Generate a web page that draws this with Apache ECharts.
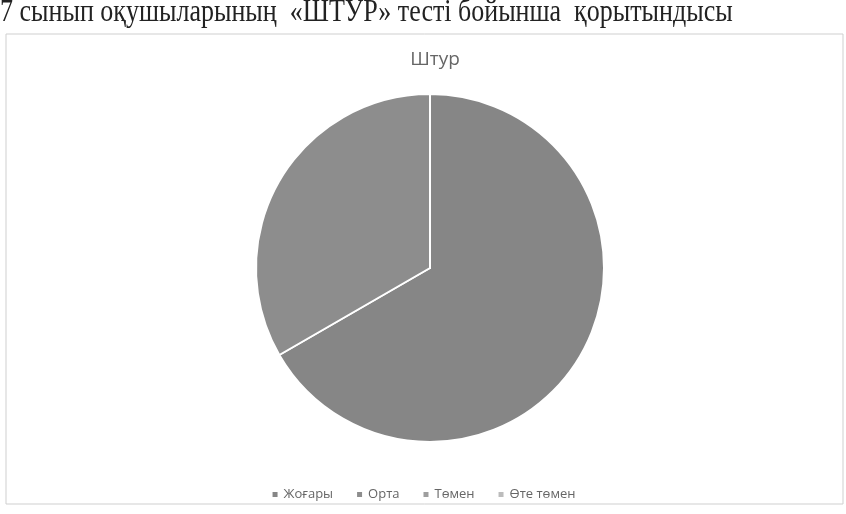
<!DOCTYPE html>
<html>
<head>
<meta charset="utf-8">
<script src="https://cdn.jsdelivr.net/npm/echarts@6/dist/echarts.min.js"></script>
<style>
  html, body { margin: 0; padding: 0; background: #fff; }
  #main { width: 846px; height: 514px; }
</style>
</head>
<body>
<div id="main"></div>
<script>
// деңгейлер мен нәтижелер
var categories = ["Жоғары", "Орта", "Төмен", "Өте төмен"];
var values = [20, 10, 0, 0];
var colors = ["#868686", "#8d8d8d", "#9e9e9e", "#bcbcbc"];

var pieData = [];
for (var i = 0; i < categories.length; i++) {
    pieData.push({
        name: categories[i],
        value: values[i],
        itemStyle: { color: colors[i] }
    });
}

var myChart = echarts.init(document.getElementById('main'));

var option = {
    backgroundColor: "#fff",
    animation: false,
    title: {
        text: "Штур",
        left: 430,
        top: 45,
        textAlign: "center",
        textStyle: {
            fontFamily: "Open Sans",
            fontSize: 19,
            fontWeight: "normal",
            color: "#666"
        }
    },
    // жоғарғы мәтін мен рамка
    graphic: [
        {
            type: "rect",
            shape: { x: 6, y: 34, width: 837, height: 470 },
            style: { fill: "none", stroke: "#cfcfcf", lineWidth: 1 },
            z: -1
        },
        {
            type: "text",
            x: 0,
            y: -4,
            scaleY: 1.25,
            style: {
                text: "7 сынып оқушыларының  «ШТУР» тесті бойынша  қорытындысы",
                font: "26px 'Liberation Serif'",
                fill: "#222"
            }
        }
    ],
    legend: {
        data: categories,
        left: "center",
        top: 483,
        icon: "rect",
        itemWidth: 7,
        itemHeight: 7,
        itemGap: 22,
        textStyle: {
            fontFamily: "Open Sans",
            fontSize: 13,
            color: "#666"
        }
    },
    series: [
        {
            type: "pie",
            center: [430, 268],
            radius: [0, 174],
            startAngle: 90,
            clockwise: true,
            data: pieData,
            label: { show: false },
            labelLine: { show: false },
            itemStyle: {
                borderColor: "#fff",
                borderWidth: 2
            }
        }
    ]
};

myChart.setOption(option);
</script>
</body>
</html>
